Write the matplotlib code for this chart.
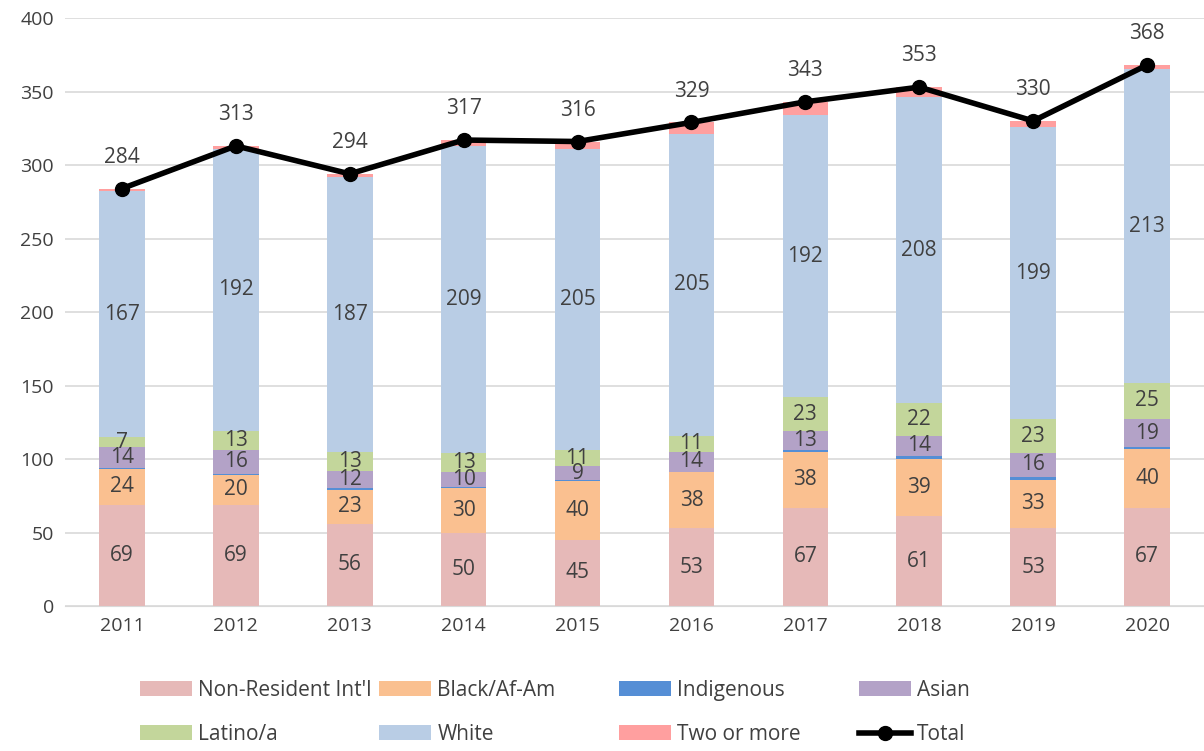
import numpy as np
import matplotlib.pyplot as plt

years = ['2011', '2012', '2013', '2014', '2015', '2016', '2017', '2018', '2019', '2020']
nonres = [69, 69, 56, 50, 45, 53, 67, 61, 53, 67]
black = [24, 20, 23, 30, 40, 38, 38, 39, 33, 40]
indig = [1, 1, 1, 1, 1, 0, 1, 2, 2, 1]
asian = [14, 16, 12, 10, 9, 14, 13, 14, 16, 19]
latino = [7, 13, 13, 13, 11, 11, 23, 22, 23, 25]
white = [167, 192, 187, 209, 205, 205, 192, 208, 199, 213]
two = [2, 2, 2, 4, 5, 8, 9, 7, 4, 3]
total = [284, 313, 294, 317, 316, 329, 343, 353, 330, 368]

series = [
    ("Non-Resident Int'l", nonres, '#E6B9B8', True),
    ('Black/Af-Am', black, '#FAC090', True),
    ('Indigenous', indig, '#558ED5', False),
    ('Asian', asian, '#B3A2C7', True),
    ('Latino/a', latino, '#C3D69B', True),
    ('White', white, '#B9CDE5', True),
    ('Two or more', two, '#FF9F9F', False),
]

plt.rcParams['font.family'] = ['Open Sans', 'DejaVu Sans']
fig = plt.figure(figsize=(12.04, 7.51), dpi=100)
ax = fig.add_axes([0.054, 0.193, 0.946, 0.783])

x = np.arange(len(years))
bottom = np.zeros(len(years))
handles = []
for name, vals, color, show in series:
    vals = np.array(vals, dtype=float)
    b = ax.bar(x, vals, 0.4, bottom=bottom, color=color, label=name, zorder=2)
    handles.append(b)
    if show:
        for xi, bo, v in zip(x, bottom, vals):
            ax.text(xi, bo + v / 2, f'{int(v)}', ha='center', va='center',
                    fontsize=15, color='#404040', zorder=4)
    bottom += vals

line, = ax.plot(x, total, color='black', lw=4, marker='o', ms=10, label='Total', zorder=5)
for xi, t in zip(x, total):
    ax.annotate(f'{t}', (xi, t), xytext=(0, 15), textcoords='offset points',
                ha='center', va='bottom', fontsize=15, color='#404040')

ax.set_ylim(0, 400)
ax.set_yticks(range(0, 401, 50))
ax.set_xlim(-0.5, len(years) - 0.5)
ax.set_xticks(x)
ax.set_xticklabels(years)
ax.tick_params(axis='both', length=0, labelsize=14, colors='#404040', pad=8)
ax.grid(axis='y', color='#D9D9D9', lw=1.2, zorder=0)
ax.set_axisbelow(True)
for s in ax.spines.values():
    s.set_visible(False)
ax.spines['bottom'].set_visible(True)
ax.spines['bottom'].set_color('#D9D9D9')

handles.append(line)
# four one-column legends, fixed column spacing like the original
col_x = [140, 379, 619, 859]
for i, cx in enumerate(col_x):
    fig.legend(handles=[handles[i], handles[i + 4]], loc='center left',
               bbox_to_anchor=(cx / 1204, 1 - 712.5 / 751), frameon=False,
               fontsize=15, handlelength=2.5, handleheight=0.7, handletextpad=0.3,
               labelspacing=1.1, borderpad=0, borderaxespad=0, labelcolor='#404040')

fig.savefig('out.png', dpi=100)
